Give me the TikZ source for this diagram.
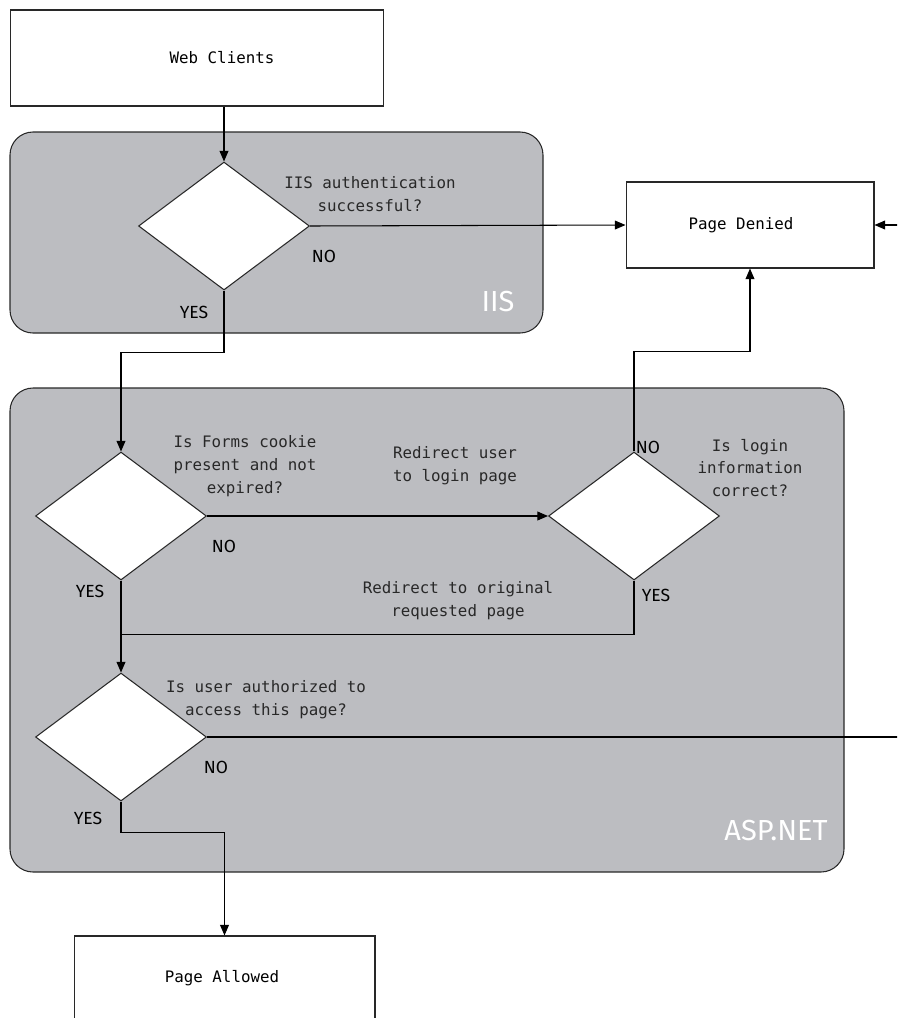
\documentclass[tikz,border=0pt]{standalone}
\usepackage{fontspec}
\setmonofont{DejaVu Sans Mono}
\newfontfamily\tagfont{Fira Sans}
\usepackage{xcolor}
\usepackage{tikz}
\usetikzlibrary{arrows.meta, shapes.geometric, positioning, calc}
\definecolor{zonegray}{RGB}{188,189,193}
\definecolor{inkgray}{RGB}{40,40,40}

\begin{document}
\begin{tikzpicture}[x=0.02cm, y=-0.02cm,
    box/.style={draw=inkgray, fill=white, line width=0.6pt, inner sep=0pt,
        font=\ttfamily\fontsize{9}{13}\selectfont},
    choice/.style={diamond, draw=inkgray, fill=white, line width=0.6pt, inner sep=0pt,
        minimum width=3.42cm, minimum height=2.56cm},
    zone/.style={draw=inkgray, fill=zonegray, line width=0.6pt, rounded corners=0.46cm},
    zonename/.style={text=white, font=\tagfont\fontsize{16.5}{16}\selectfont},
    question/.style={align=center, text=inkgray, font=\ttfamily\fontsize{9}{13}\selectfont},
    answer/.style={text=black, font=\tagfont\fontsize{10}{10}\selectfont},
    link/.style={line width=0.6pt, black},
    arr/.style={link, -{Triangle[length=6pt, width=5pt]}}]

    \useasboundingbox (0,0) rectangle (897,1018);
    \clip (0,0) rectangle (897,1018);

    % Zone
    \draw[zone] (10,132) rectangle (543,333);
    \draw[zone] (10,388) rectangle (844,872);
    \node[zonename] (iisname) at (498,302) {IIS};
    \node[zonename] (aspname) at (776,831) {ASP.NET};

    % Riquadri
    \node[box, minimum width=7.48cm, minimum height=1.92cm] (web) at (197,58) {\hspace*{1cm}Web Clients};
    \node[box, minimum width=4.96cm, minimum height=1.72cm] (denied) at (750,225) {Page Denied\hspace*{0.36cm}};
    \node[box, minimum width=6.02cm, minimum height=1.68cm] (allowed) at (224.5,978) {Page Allowed\hspace*{0.1cm}};

    % Decisioni
    \node[choice] (iis) at (224,226) {};
    \node[choice] (forms) at (121,516) {};
    \node[choice] (login) at (634,516) {};
    \node[choice] (auth) at (121,737) {};
    \coordinate (edge) at (910,0);

    % Testi
    \node[question] (iisq) at (370,194) {IIS authentication\\successful?};
    \node[question] (formsq) at (245,466) {Is Forms cookie\\present and not\\expired?};
    \node[question] (tologin) at (455,466) {Redirect user\\to login page};
    \node[question] (loginq) at (750,468) {Is login\\information\\correct?};
    \node[question] (toorig) at (458,601) {Redirect to original\\requested page};
    \node[question] (authq) at (266,700) {Is user authorized to\\access this page?};

    \node[answer] (iisno) at (324,256) {NO};
    \node[answer] (iisyes) at (194,312) {YES};
    \node[answer] (formsno) at (224,546) {NO};
    \node[answer] (formsyes) at (90,591) {YES};
    \node[answer] (loginno) at (648,447) {NO};
    \node[answer] (loginyes) at (656,595) {YES};
    \node[answer] (authno) at (216,767) {NO};
    \node[answer] (authyes) at (88,818) {YES};

    % Collegamenti
    \draw[arr] (iis.north |- web.south) -- (iis.north);
    \draw[arr] (iis.east) -- (denied.west);
    \draw[arr] (iis.south) -- ++(0,62) -| (forms.north);
    \draw[arr] (forms.east) -- (login.west);
    \draw[arr] (login.north) -- ++(0,-100) -| (denied.south);
    \draw[link] (login.south) |- ($(forms.south)+(0,54)$);
    \draw[arr] (forms.south) -- (auth.north);
    \draw[arr] (auth.east) -- (auth.east -| edge) |- (denied.east);
    \draw[arr] (auth.south) -- ++(0,31) -| (allowed.north);
\end{tikzpicture}
\end{document}
